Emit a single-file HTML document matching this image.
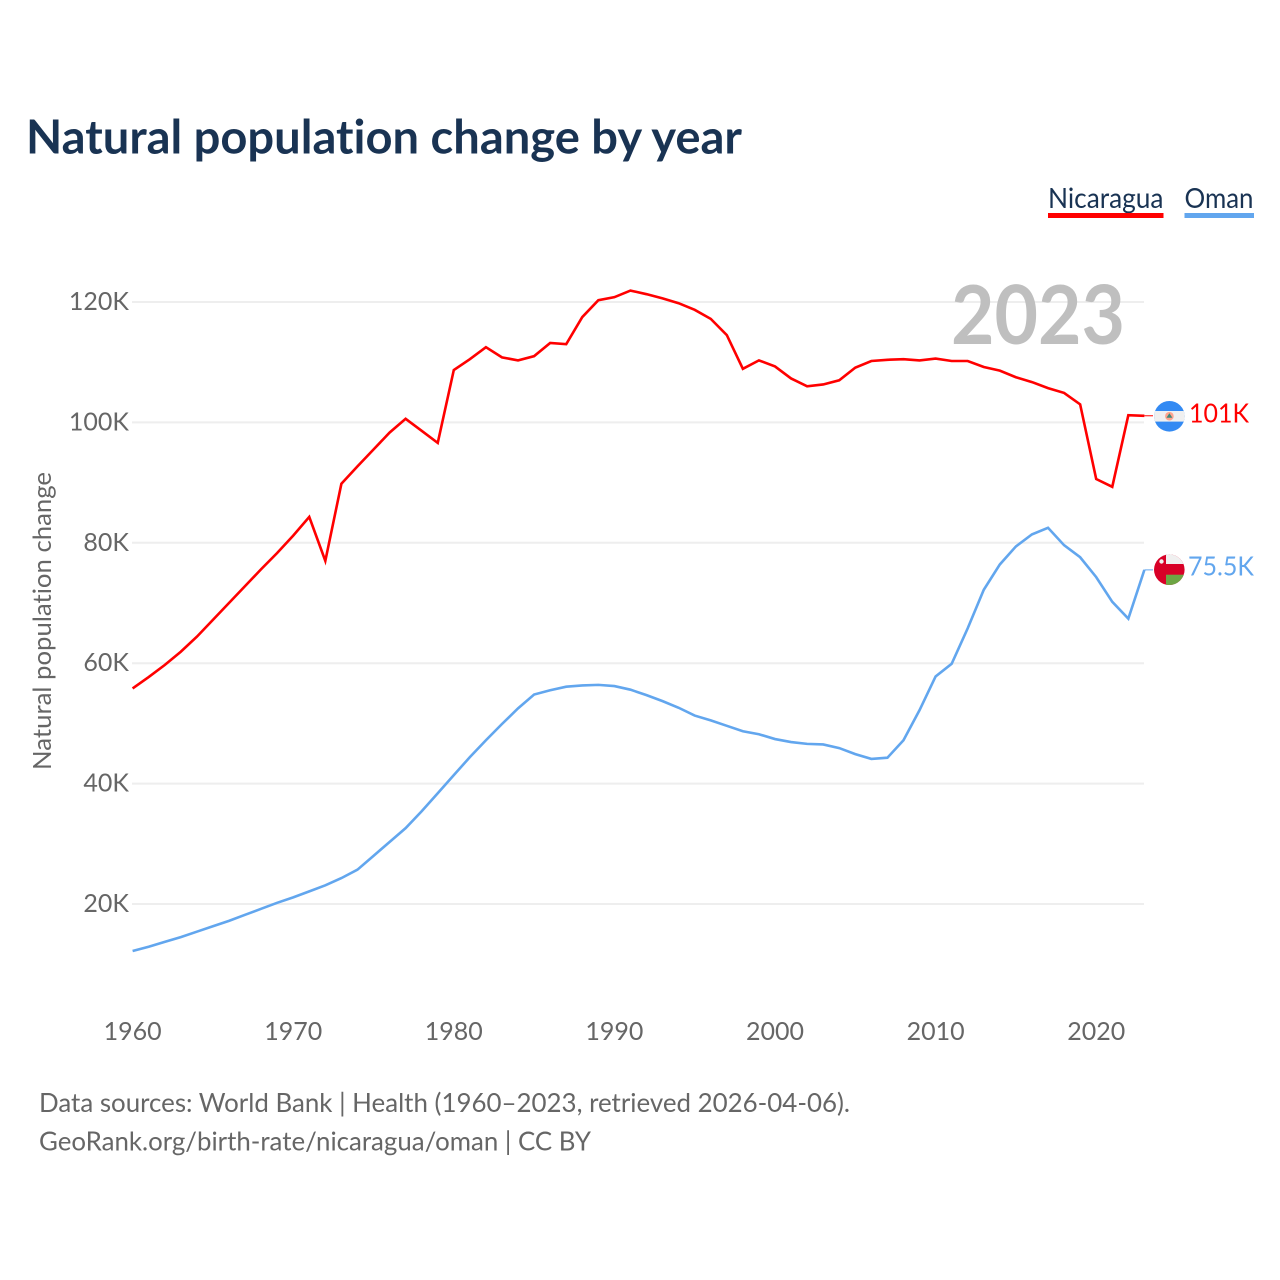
<!DOCTYPE html>
<html lang="en">
<head>
<meta charset="utf-8">
<title>Natural population change by year</title>
<style>
html,body{margin:0;padding:0;background:#fff;}
svg{display:block;}
text{font-family:"Lato","Carlito","Liberation Sans",sans-serif;font-variant-ligatures:none;}
</style>
</head>
<body>
<svg id="chart" xmlns="http://www.w3.org/2000/svg" width="1280" height="1280" viewBox="0 0 1280 1280">
  <defs>
    <clipPath id="clip-nic"><circle cx="1169.4" cy="416.3" r="15.3"></circle></clipPath>
    <clipPath id="clip-oman"><circle cx="1169.3" cy="569.7" r="15.3"></circle></clipPath>
  </defs>
  <rect x="0" y="0" width="1280" height="1280" fill="#ffffff"></rect>
  <text x="26" y="153.5" font-size="47" font-weight="700" fill="#193353" textLength="716" lengthAdjust="spacingAndGlyphs">Natural population change by year</text>

  <g>
    <g>
      <text x="1048" y="208" font-size="28" fill="#193353" textLength="115.5" lengthAdjust="spacingAndGlyphs">Nicaragua</text>
      <rect x="1048" y="213" width="115.5" height="5" fill="#ff0000"></rect>
    </g>
    <g>
      <text x="1184.5" y="208" font-size="28" fill="#193353" textLength="69" lengthAdjust="spacingAndGlyphs">Oman</text>
      <rect x="1184.5" y="213" width="69.5" height="5" fill="#62a6ee"></rect>
    </g>
  </g>

  <g id="grid"></g>
  <g id="y-ticks"></g>
  <g id="x-ticks"></g>
  <text transform="translate(51,621) rotate(-90)" text-anchor="middle" font-size="25.5" fill="#666666" textLength="298" lengthAdjust="spacingAndGlyphs">Natural population change</text>
  <text x="951" y="344" font-size="81" font-weight="700" fill="#bfbfbf" textLength="174" lengthAdjust="spacingAndGlyphs">2023</text>

  <g id="series"></g>

  <g clip-path="url(#clip-nic)">
    <rect x="1153" y="400" width="33" height="33" fill="#338af3"></rect>
    <rect x="1153" y="411" width="33" height="10.6" fill="#f0f0f0"></rect>
    <circle cx="1169.4" cy="416.2" r="4.3" fill="#ffa48f"></circle>
    <polygon points="1169.4,413.2 1172.4,417.8 1166.4,417.8" fill="#3f8a78"></polygon>
  </g>
  <g clip-path="url(#clip-oman)">
    <rect x="1153" y="553" width="33" height="33" fill="#d80027"></rect>
    <rect x="1166" y="553" width="20" height="11" fill="#f0f0f0"></rect>
    <rect x="1166" y="574.7" width="20" height="12" fill="#6da544"></rect>
    <circle cx="1161.5" cy="561.5" r="2.2" fill="#f0f0f0"></circle>
  </g>
  <text id="label-nic" x="1189" y="422.5" font-size="26" fill="#ff0000" textLength="60" lengthAdjust="spacingAndGlyphs"></text>
  <text id="label-oman" x="1188" y="575.5" font-size="26" fill="#62a6ee" textLength="66" lengthAdjust="spacingAndGlyphs"></text>

  <g>
    <text x="39" y="1112" font-size="26.5" fill="#666666" textLength="811" lengthAdjust="spacingAndGlyphs">Data sources: World Bank | Health (1960–2023, retrieved 2026-04-06).</text>
    <text x="39" y="1150.5" font-size="26.5" fill="#666666" textLength="552" lengthAdjust="spacingAndGlyphs">GeoRank.org/birth-rate/nicaragua/oman | CC BY</text>
  </g>
</svg>
<script>
const startYear = 1960;
const xTickYears = [1960, 1970, 1980, 1990, 2000, 2010, 2020];
const yTickValues = [20000, 40000, 60000, 80000, 100000, 120000];
const yTickLabels = ["20K", "40K", "60K", "80K", "100K", "120K"];
const nicaraguaValues = [
  55800, 57700, 59700, 61900, 64400, 67200, 70000, 72800, 75600, 78300,
  81200, 84300, 77000, 89800, 92700, 95500, 98300, 100600, 98600, 96600,
  108700, 110500, 112500, 110800, 110300, 111000, 113200, 113000, 117500, 120300,
  120800, 121900, 121300, 120600, 119800, 118700, 117200, 114500, 108900, 110300,
  109300, 107300, 106000, 106300, 107000, 109100, 110200, 110400, 110500, 110300,
  110600, 110200, 110200, 109200, 108600, 107500, 106700, 105700, 104900, 103000,
  90600, 89300, 101200, 101100
];
const omanValues = [
  12200, 12900, 13700, 14500, 15400, 16300, 17200, 18200, 19200, 20200,
  21100, 22100, 23100, 24300, 25700, 28000, 30300, 32600, 35400, 38400,
  41400, 44400, 47200, 49900, 52500, 54800, 55500, 56100, 56300, 56400,
  56200, 55600, 54700, 53700, 52600, 51300, 50500, 49600, 48700, 48200,
  47400, 46900, 46600, 46500, 45900, 44900, 44100, 44300, 47200, 52200,
  57800, 59900, 65800, 72200, 76400, 79400, 81400, 82500, 79600, 77600,
  74300, 70200, 67400, 75500
];
const nicaraguaEndLabel = "101K";
const omanEndLabel = "75.5K";

const SVG_NS = "http://www.w3.org/2000/svg";
function xScale(year) { return 132.6 + (year - 1960) * 16.06; }
function yScale(value) { return 1024.4 - value * 0.00602; }

function svgEl(tag) { return document.createElementNS(SVG_NS, tag); }

const gridGroup = document.getElementById("grid");
const yTickGroup = document.getElementById("y-ticks");
yTickValues.forEach(function (v, i) {
  const line = svgEl("line");
  
  
  line.setAttribute("x1", 132);
  line.setAttribute("x2", 1144);
  line.setAttribute("y1", yScale(v));
  line.setAttribute("y2", yScale(v));
  line.setAttribute("stroke", "#eeeeee");
  line.setAttribute("stroke-width", 2);
  gridGroup.appendChild(line);

  const label = svgEl("text");
  
  
  label.setAttribute("x", 129);
  label.setAttribute("y", yScale(v) + 8);
  label.setAttribute("text-anchor", "end");
  label.setAttribute("font-size", 25);
  label.setAttribute("fill", "#666666");
  label.textContent = yTickLabels[i];
  yTickGroup.appendChild(label);
});

const xTickGroup = document.getElementById("x-ticks");
xTickYears.forEach(function (y) {
  const label = svgEl("text");
  
  
  label.setAttribute("x", xScale(y));
  label.setAttribute("y", 1040);
  label.setAttribute("text-anchor", "middle");
  label.setAttribute("font-size", 25);
  label.setAttribute("fill", "#666666");
  label.textContent = String(y);
  xTickGroup.appendChild(label);
});

function pathFor(values) {
  return values.map(function (v, i) {
    return (i === 0 ? "M" : "L") + xScale(startYear + i).toFixed(2) + " " + yScale(v).toFixed(2);
  }).join(" ");
}

const seriesGroup = document.getElementById("series");

const nicaraguaLine = svgEl("path");


nicaraguaLine.setAttribute("d", pathFor(nicaraguaValues));
nicaraguaLine.setAttribute("fill", "none");
nicaraguaLine.setAttribute("stroke", "#ff0000");
nicaraguaLine.setAttribute("stroke-width", 2.6);
nicaraguaLine.setAttribute("stroke-linejoin", "miter");
seriesGroup.appendChild(nicaraguaLine);

const omanLine = svgEl("path");


omanLine.setAttribute("d", pathFor(omanValues));
omanLine.setAttribute("fill", "none");
omanLine.setAttribute("stroke", "#62a6ee");
omanLine.setAttribute("stroke-width", 2.6);
omanLine.setAttribute("stroke-linejoin", "miter");
seriesGroup.appendChild(omanLine);

const lastIndex = nicaraguaValues.length - 1;

const nicaraguaConnector = svgEl("line");


nicaraguaConnector.setAttribute("x1", xScale(startYear + lastIndex));
nicaraguaConnector.setAttribute("x2", 1153);
nicaraguaConnector.setAttribute("y1", yScale(nicaraguaValues[lastIndex]));
nicaraguaConnector.setAttribute("y2", yScale(nicaraguaValues[lastIndex]));
nicaraguaConnector.setAttribute("stroke", "#ff0000");
nicaraguaConnector.setAttribute("stroke-width", 1);
seriesGroup.appendChild(nicaraguaConnector);

const omanConnector = svgEl("line");


omanConnector.setAttribute("x1", xScale(startYear + lastIndex));
omanConnector.setAttribute("x2", 1153);
omanConnector.setAttribute("y1", yScale(omanValues[lastIndex]));
omanConnector.setAttribute("y2", yScale(omanValues[lastIndex]));
omanConnector.setAttribute("stroke", "#62a6ee");
omanConnector.setAttribute("stroke-width", 1);
seriesGroup.appendChild(omanConnector);

document.getElementById("label-nic").textContent = nicaraguaEndLabel;
document.getElementById("label-oman").textContent = omanEndLabel;
</script>
</body>
</html>
